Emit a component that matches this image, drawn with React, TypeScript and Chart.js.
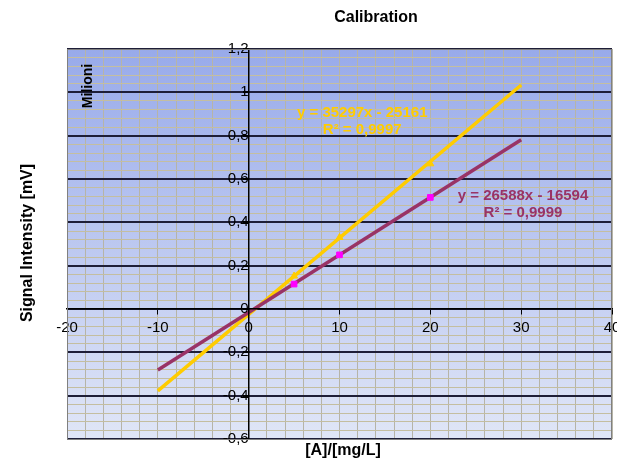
import React, { useEffect, useRef } from 'react';
import { Chart, registerables } from 'chart.js';

Chart.register(...registerables);

// ---- data ----
const concentrations = [5, 10, 20];
const seriesYellow = [0.152, 0.33, 0.67];
const seriesMagenta = [0.115, 0.25, 0.515];
const trendX = [-10, 30];
const trendYellow = [-0.378, 1.034];
const trendMagenta = [-0.282, 0.781];
const labelYellow = ['y = 35297x - 25161', 'R² = 0,9997'];
const labelMagenta = ['y = 26588x - 16594', 'R² = 0,9999'];
const labelYellowAnchor = [12.5, 0.905];
const labelMagentaAnchor = [30.2, 0.52];
const xRange = [-20, 40];
const yRange = [-0.6, 1.2];
const titleText = 'Calibration';
const xTitle = '[A]/[mg/L]';
const yTitle = 'Signal Intensity [mV]';
const unitText = 'Milioni';

const YELLOW = '#FFCC00';
const PURPLE = '#993366';
const MAGENTA = '#FF00FF';
const FONT = '"Liberation Sans", Arial, sans-serif';

const isMajorY = (v: number) => Math.abs(Math.round(v * 100)) % 20 === 0;
const isMajorX = (v: number) => Math.abs(Math.round(v)) % 10 === 0;

const decorPlugin = {
  id: 'decor',
  beforeDraw(chart: any) {
    const { ctx, chartArea: a } = chart;
    ctx.save();
    const g = ctx.createLinearGradient(0, a.top, 0, a.bottom);
    g.addColorStop(0, '#98aaea');
    g.addColorStop(1, '#e0e6f7');
    ctx.fillStyle = g;
    ctx.fillRect(a.left, a.top, a.right - a.left, a.bottom - a.top);
    ctx.restore();
  },
  afterDraw(chart: any) {
    const { ctx, chartArea: a, scales } = chart;
    const xs = scales.x;
    const ys = scales.y;
    ctx.save();
    ctx.strokeStyle = '#808080';
    ctx.lineWidth = 1;
    ctx.strokeRect(a.left + 0.5, a.top + 0.5, a.right - a.left - 1, a.bottom - a.top);

    ctx.fillStyle = '#000';
    ctx.textAlign = 'center';
    ctx.textBaseline = 'middle';
    ctx.font = `bold 16px ${FONT}`;
    ctx.fillText(titleText, 376, 18);
    ctx.fillText(xTitle, 343, 451);
    ctx.save();
    ctx.translate(28, 243);
    ctx.rotate(-Math.PI / 2);
    ctx.fillText(yTitle, 0, 0);
    ctx.restore();
    ctx.save();
    ctx.font = `bold 14px ${FONT}`;
    ctx.translate(88, 86);
    ctx.rotate(-Math.PI / 2);
    ctx.fillText(unitText, 0, 0);
    ctx.restore();

    ctx.font = `bold 15px ${FONT}`;
    const drawLabel = (lines: string[], anchor: number[], color: string) => {
      const cx = xs.getPixelForValue(anchor[0]);
      const cy = ys.getPixelForValue(anchor[1]);
      ctx.fillStyle = color;
      lines.forEach((t, i) => ctx.fillText(t, cx, cy + i * 17));
    };
    drawLabel(labelYellow, labelYellowAnchor, YELLOW);
    drawLabel(labelMagenta, labelMagentaAnchor, PURPLE);
    ctx.restore();
  },
};

export default function App() {
  const ref = useRef<HTMLCanvasElement | null>(null);
  useEffect(() => {
    if (!ref.current) return;
    const chart = new Chart(ref.current, {
      type: 'scatter',
      data: {
        datasets: [
          {
            label: 'Magenta',
            data: concentrations.map((x, i) => ({ x, y: seriesMagenta[i] })),
            backgroundColor: MAGENTA,
            borderColor: MAGENTA,
            pointStyle: 'rect',
            pointRadius: 4,
            showLine: false,
          },
          {
            label: 'Yellow',
            data: concentrations.map((x, i) => ({ x, y: seriesYellow[i] })),
            backgroundColor: YELLOW,
            borderColor: YELLOW,
            pointStyle: 'triangle',
            pointRadius: 4,
            showLine: false,
          },
          {
            label: 'Trend Magenta',
            data: trendX.map((x, i) => ({ x, y: trendMagenta[i] })),
            borderColor: PURPLE,
            borderWidth: 3.5,
            pointRadius: 0,
            showLine: true,
          },
          {
            label: 'Trend Yellow',
            data: trendX.map((x, i) => ({ x, y: trendYellow[i] })),
            borderColor: YELLOW,
            borderWidth: 3.5,
            pointRadius: 0,
            showLine: true,
          },
        ],
      },
      options: {
        animation: false,
        responsive: false,
        layout: { padding: { left: 67, right: 20, top: 49, bottom: 21 } },
        plugins: { legend: { display: false }, tooltip: { enabled: false }, title: { display: false } },
        scales: {
          x: {
            type: 'linear',
            position: { y: 0 } as any,
            min: xRange[0],
            max: xRange[1],
            ticks: {
              stepSize: 2,
              autoSkip: false,
              maxRotation: 0,
              minRotation: 0,
              padding: 5,
              color: '#000',
              font: { family: FONT, size: 15 },
              z: 2,
              callback: (v: any) => (isMajorX(Number(v)) ? String(v) : ''),
            },
            grid: {
              color: 'rgb(182,180,168)',
              lineWidth: 1,
              tickLength: 5,
              tickColor: (c: any) => (isMajorX(c.tick?.value ?? 1) ? '#000' : 'rgba(0,0,0,0)'),
            },
            border: { color: '#000', width: 1.5, z: 1 },
          },
          y: {
            type: 'linear',
            position: { x: 0 } as any,
            min: yRange[0],
            max: yRange[1],
            ticks: {
              stepSize: 0.04,
              autoSkip: false,
              padding: 6,
              color: '#000',
              font: { family: FONT, size: 15 },
              z: 2,
              callback: (v: any) => {
                const n = Number(v);
                return isMajorY(n) ? String(Math.round(n * 10) / 10).replace('.', ',') : '';
              },
            },
            grid: {
              color: (c: any) => (isMajorY(c.tick?.value ?? 0.01) ? '#1e1e38' : 'rgb(196,190,160)'),
              lineWidth: (c: any) => (isMajorY(c.tick?.value ?? 0.01) ? 2 : 1),
              tickLength: 5,
              tickColor: (c: any) => (isMajorY(c.tick?.value ?? 0.01) ? '#000' : 'rgba(0,0,0,0)'),
            },
            border: { color: '#000', width: 1.5, z: 1 },
          },
        },
      },
      plugins: [decorPlugin],
    } as any);
    return () => chart.destroy();
  }, []);
  return (
    <div style={{ position: 'absolute', left: 0, top: 0, width: 617, height: 460, overflow: 'hidden', background: '#fff' }}>
      <canvas ref={ref} width={632} height={460} style={{ display: 'block' }} />
    </div>
  );
}
